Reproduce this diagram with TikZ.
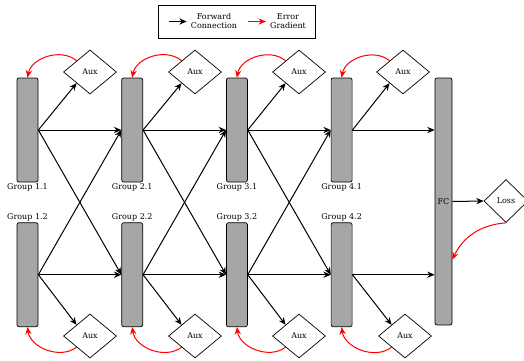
\documentclass[tikz,border=0pt]{standalone}
\usepackage{fontspec}
\setmainfont{DejaVu Serif}
\usepackage{xcolor}
\usepackage{tikz}
\usetikzlibrary{positioning, arrows.meta, shapes.geometric}
\definecolor{groupgray}{HTML}{A6A6A6}
\definecolor{gradred}{HTML}{FF0000}

\begin{document}
\begin{tikzpicture}[x=1pt, y=1pt, font=\fontsize{8}{9}\selectfont,
    group/.style={draw, fill=groupgray, rounded corners=2pt, minimum width=21pt, minimum height=104pt, inner sep=0pt, line width=0.7pt},
    aux/.style={draw, diamond, aspect=1.2, inner sep=0pt, minimum width=53pt, minimum height=44pt, line width=0.7pt},
    fwd/.style={-{Stealth[length=2.6mm, width=2.2mm]}, line width=1pt},
    grad/.style={-{Stealth[length=2.6mm, width=2.2mm]}, gradred, line width=1pt}]
  \useasboundingbox (0,0) rectangle (524,360);

  % legend
  \node (legend) [draw, minimum width=157pt, minimum height=33pt, line width=0.8pt] at (236.5,338.5) {};
  \node (fwdtxt) [align=center, inner sep=1pt] at (214,338.5) {Forward\\Connection};
  \node (errtxt) [align=center, inner sep=1pt] at (288,338.5) {Error\\Gradient};
  \coordinate (fwdstart) at (169,338.5);
  \coordinate (errstart) at (248,338.5);
  \draw[fwd] (fwdstart) -- ([xshift=-3pt]fwdtxt.west);
  \draw[grad] (errstart) -- ([xshift=-3pt]errtxt.west);

  % groups
  \node (g11) [group, label={[inner sep=1pt]below:Group 1.1}] at (27.5,230) {};
  \node (g21) [group, right=83pt of g11, label={[inner sep=1pt]below:Group 2.1}] {};
  \node (g31) [group, right=83pt of g21, label={[inner sep=1pt]below:Group 3.1}] {};
  \node (g41) [group, right=83pt of g31, label={[inner sep=1pt]below:Group 4.1}] {};
  \node (g12) [group, below=40pt of g11, label={[inner sep=1pt]above:Group 1.2}] {};
  \node (g22) [group, below=40pt of g21, label={[inner sep=1pt]above:Group 2.2}] {};
  \node (g32) [group, below=40pt of g31, label={[inner sep=1pt]above:Group 3.2}] {};
  \node (g42) [group, below=40pt of g41, label={[inner sep=1pt]above:Group 4.2}] {};
  \node (fc) [group, minimum width=17pt, minimum height=247pt] at (443.5,158.5) {FC};

  % auxiliary heads
  \node (a11) [aux] at (90,288) {Aux};
  \node (a21) [aux] at (195,288) {Aux};
  \node (a31) [aux] at (299,288) {Aux};
  \node (a41) [aux] at (403,288) {Aux};
  \node (a12) [aux] at (90,24) {Aux};
  \node (a22) [aux] at (195,24) {Aux};
  \node (a32) [aux] at (299,24) {Aux};
  \node (a42) [aux] at (405,24) {Aux};
  \node (loss) [aux, minimum width=44pt, minimum height=43pt] at (506,159) {Loss};

  % forward connections
  \draw[fwd] (g11.east) -- (g21.west);
  \draw[fwd] (g11.east) -- (g22.west);
  \draw[fwd] (g12.east) -- (g22.west);
  \draw[fwd] (g12.east) -- (g21.west);
  \draw[fwd] (g21.east) -- (g31.west);
  \draw[fwd] (g21.east) -- (g32.west);
  \draw[fwd] (g22.east) -- (g32.west);
  \draw[fwd] (g22.east) -- (g31.west);
  \draw[fwd] (g31.east) -- (g41.west);
  \draw[fwd] (g31.east) -- (g42.west);
  \draw[fwd] (g32.east) -- (g42.west);
  \draw[fwd] (g32.east) -- (g41.west);
  \draw[fwd] (g41.east) -- (g41.east -| fc.west);
  \draw[fwd] (g42.east) -- (g42.east -| fc.west);
  \draw[fwd] (fc.east) -- (loss.west);

  \draw[fwd] (g11.east) -- (a11.south west);
  \draw[fwd] (g21.east) -- (a21.south west);
  \draw[fwd] (g31.east) -- (a31.south west);
  \draw[fwd] (g41.east) -- (a41.south west);
  \draw[fwd] (g12.east) -- (a12.north west);
  \draw[fwd] (g22.east) -- (a22.north west);
  \draw[fwd] (g32.east) -- (a32.north west);
  \draw[fwd] (g42.east) -- (a42.north west);

  % error gradients
  \draw[grad] (a11.north west) to[bend right=60] (g11.north);
  \draw[grad] (a21.north west) to[bend right=60] (g21.north);
  \draw[grad] (a31.north west) to[bend right=60] (g31.north);
  \draw[grad] (a41.north west) to[bend right=60] (g41.north);
  \draw[grad] (a12.south west) to[bend left=60] (g12.south);
  \draw[grad] (a22.south west) to[bend left=60] (g22.south);
  \draw[grad] (a32.south west) to[bend left=60] (g32.south);
  \draw[grad] (a42.south west) to[bend left=60] (g42.south);
  \draw[grad] (loss.south) to[bend right=30] ([yshift=-58pt]fc.east);
\end{tikzpicture}
\end{document}
